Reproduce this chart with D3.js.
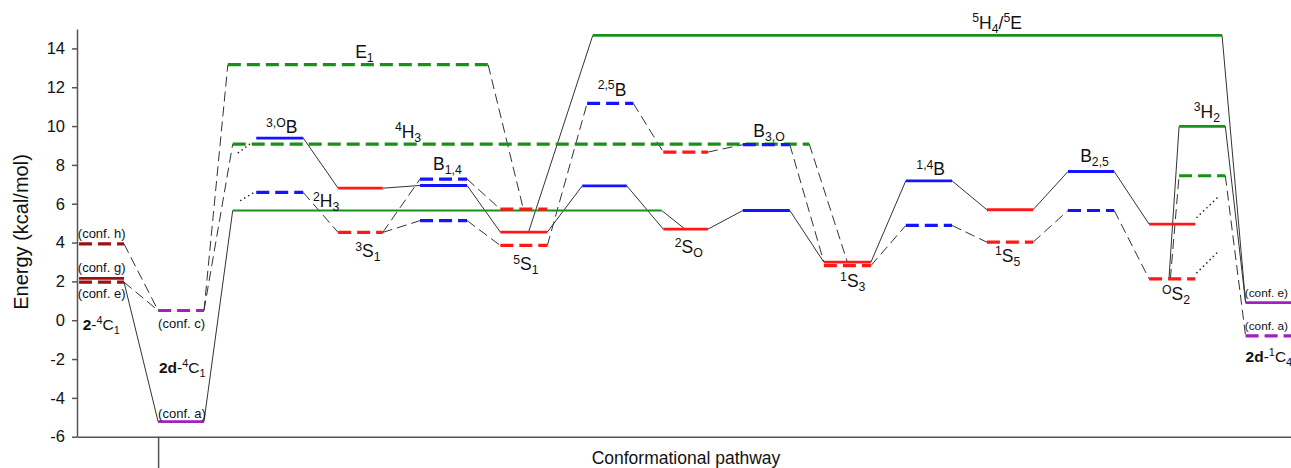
<!DOCTYPE html>
<html>
<head>
<meta charset="utf-8">
<script src="https://cdn.jsdelivr.net/npm/d3@7"></script>
<style>
  body { margin: 0; background: #fff; }
  svg { display: block; font-family: "Liberation Sans", Arial, sans-serif; }
</style>
</head>
<body>
<svg id="chart" width="1291" height="468"></svg>
<script>
// energy levels: [id, xStart, xEnd, energy, dashed]  (x in pathway steps)
const confLevels = [
  ["confH", 0.025, 0.58, 3.93, true],
  ["confG", 0.025, 0.58, 2.16, false],
  ["confE", 0.025, 0.58, 1.96, true],
  ["confC", 1.0, 1.566, 0.5, true],
  ["confA", 1.0, 1.566, -5.22, false],
  ["confE2", 14.41, 15.2, 0.91, false],
  ["confA2", 14.41, 15.2, -0.81, true]
];
const greenLevels = [
  ["E1", 1.86, 5.07, 13.16, true],
  ["H34", 1.92, 9.03, 9.07, true],
  ["g565", 1.92, 7.21, 5.65, false],
  ["H45E", 6.36, 14.12, 14.67, false],
  ["H32", 13.59, 14.16, 9.98, false],
  ["g744", 13.59, 14.16, 7.44, true]
];
const blueLevels = [
  ["B3O", 2.21, 2.79, 9.38, false],
  ["H23", 2.21, 2.79, 6.58, true],
  ["B14d", 4.23, 4.81, 7.27, true],
  ["B14", 4.23, 4.81, 6.94, false],
  ["b513", 4.23, 4.81, 5.13, true],
  ["B25up", 6.29, 6.86, 11.17, true],
  ["b692", 6.23, 6.78, 6.92, false],
  ["BO3", 8.21, 8.79, 9.04, true],
  ["b565", 8.21, 8.79, 5.65, false],
  ["B14up", 10.22, 10.79, 7.18, false],
  ["b488", 10.22, 10.79, 4.88, true],
  ["B25", 12.22, 12.79, 7.66, false],
  ["b565b", 12.22, 12.79, 5.65, true]
];
const redLevels = [
  ["r68", 3.22, 3.77, 6.8, false],
  ["S31", 3.22, 3.77, 4.52, true],
  ["r572", 5.22, 5.80, 5.72, true],
  ["S51", 5.22, 5.80, 4.54, false],
  ["r385", 5.22, 5.80, 3.85, true],
  ["r866", 7.23, 7.78, 8.66, true],
  ["S2O", 7.23, 7.78, 4.69, false],
  ["S13", 9.21, 9.79, 2.99, false],
  ["S13d", 9.21, 9.79, 2.81, true],
  ["r569", 11.22, 11.79, 5.69, false],
  ["S15", 11.22, 11.79, 4.02, true],
  ["r495", 13.22, 13.79, 4.95, false],
  ["SO2", 13.22, 13.79, 2.13, true]
];

// connections: [from, fraction along from, to, fraction along to, dashed]
const links = [
  ["confH", 1, "confC", 0, true], ["confE", 1, "confC", 0, true], ["confE", 1, "confA", 0, false],
  ["confA", 1, "g565", 0, false], ["confC", 1, "E1", 0, true], ["confC", 1, "H34", 0, true],
  ["B3O", 1, "r68", 0, false], ["H23", 1, "S31", 0, true],
  ["r68", 1, "B14", 0, false], ["S31", 1, "B14d", 0, true], ["S31", 1, "b513", 0, true],
  ["B14d", 1, "r572", 0, true], ["B14", 1, "S51", 0, false], ["b513", 1, "r385", 0, true],
  ["E1", 1, "r572", 0.49, true], ["S51", 0.6, "H45E", 0, false],
  ["r385", 1, "B25up", 0, true], ["S51", 1, "b692", 0, false],
  ["B25up", 1, "r866", 0, true], ["b692", 1, "S2O", 0, false], ["g565", 1, "S2O", 0.49, false],
  ["r866", 1, "BO3", 0, true], ["S2O", 1, "b565", 0, false],
  ["BO3", 1, "S13", 0, true], ["H34", 1, "S13", 0.5, true], ["b565", 1, "S13", 0, false],
  ["S13", 1, "B14up", 0, false], ["S13d", 1, "b488", 0, true],
  ["B14up", 1, "r569", 0, false], ["b488", 1, "S15", 0, true],
  ["r569", 1, "B25", 0, false], ["S15", 1, "b565b", 0, true],
  ["B25", 1, "r495", 0, false], ["b565b", 1, "SO2", 0, true],
  ["SO2", 0.43, "H32", 0, false], ["SO2", 0.46, "g744", 0, true],
  ["H45E", 1, "confE2", 0, false], ["H32", 1, "confE2", 0, false], ["g744", 1, "confA2", 0, true]
];

// dotted partial paths: [x1, e1, x2, e2]
const dottedLinks = [
  [1.99, 8.63, 2.17, 9.2],
  [2.02, 6.17, 2.17, 6.55],
  [13.81, 5.3, 14.06, 6.3],
  [13.81, 2.45, 14.06, 3.48]
];

// labels: [text, x, energy, kind]  ^{} superscript, _{} subscript, *{} bold
const labels = [
  ["E_{1}", 3.43, 13.52, "big"],
  ["^{4}H_{3}", 3.92, 9.40, "big"],
  ["^{3,O}B", 2.33, 9.65, "big"],
  ["^{2}H_{3}", 2.91, 5.84, "big"],
  ["^{3}S_{1}", 3.43, 3.26, "big"],
  ["B_{1,4}", 4.39, 7.75, "big"],
  ["^{5}S_{1}", 5.38, 2.59, "big"],
  ["^{2,5}B", 6.42, 11.56, "big"],
  ["^{2}S_{O}", 7.37, 3.47, "big"],
  ["B_{3,O}", 8.34, 9.45, "big"],
  ["^{1}S_{3}", 9.41, 1.72, "big"],
  ["^{1,4}B", 10.35, 7.49, "big"],
  ["^{1}S_{5}", 11.32, 3.01, "big"],
  ["B_{2,5}", 12.37, 8.16, "big"],
  ["^{O}S_{2}", 13.38, 1.05, "big"],
  ["^{3}H_{2}", 13.77, 10.43, "big"],
  ["^{5}H_{4}/^{5}E", 11.04, 15.02, "big"],
  ["(conf. h)", 0.01, 4.24, "small"],
  ["(conf. g)", 0.01, 2.49, "small"],
  ["(conf. e)", 0.01, 1.15, "small"],
  ["*{2}-^{4}C_{1}", 0.07, -0.5, "mid"],
  ["(conf. c)", 1.0, -0.4, "small"],
  ["*{2d}-^{4}C_{1}", 1.01, -2.72, "mid"],
  ["(conf. a)", 1.0, -5.03, "small"],
  ["(conf. e)", 14.40, 1.2, "edge"],
  ["(conf. a)", 14.40, -0.5, "edge"],
  ["*{2d}-^{1}C_{4}", 14.41, -2.15, "mid"]
];

const yTicks = [-6, -4, -2, 0, 2, 4, 6, 8, 10, 12, 14];
const xTicks = [1.0];

const colors = { conf: "#9c1010", purple: "#a020c0", green: "#169216", blue: "#1414ff", red: "#ff1818" };

const svg = d3.select("#chart");
const x = d3.scaleLinear().domain([0, 14.97]).range([77, 1291]);
const y = d3.scaleLinear().domain([-6, 15]).range([436.7, 29]);

// axes
const yAxis = svg.append("g")
  .attr("transform", "translate(77,0)")
  .call(d3.axisLeft(y).tickValues(yTicks).tickSize(5).tickSizeOuter(0).tickPadding(7)
    .tickFormat(d => String(d)));
yAxis.selectAll("text").attr("font-size", 16.5).attr("fill", "#111").attr("font-family", "Liberation Sans, Arial, sans-serif");
yAxis.selectAll("path, line").attr("stroke", "#555").attr("stroke-width", 1.5);

const xAxis = svg.append("g")
  .attr("transform", "translate(0," + y(-6) + ")")
  .call(d3.axisBottom(x).tickValues(xTicks).tickSize(32).tickSizeOuter(0).tickFormat(""));
xAxis.selectAll("path, line").attr("stroke", "#555").attr("stroke-width", 1.5);

svg.append("text")
  .attr("transform", "translate(28," + 232 + ") rotate(-90)")
  .attr("text-anchor", "middle")
  .attr("font-size", 20)
  .attr("fill", "#111")
  .text("Energy (kcal/mol)");

svg.append("text")
  .attr("x", 686).attr("y", 464)
  .attr("text-anchor", "middle")
  .attr("font-size", 17.5)
  .attr("fill", "#111")
  .text("Conformational pathway");

// level lookup
const levelColor = id => {
  if (["confE2", "confA2", "confC", "confA"].includes(id)) return colors.purple;
  return colors.conf;
};
const allLevels = [];
confLevels.forEach(d => allLevels.push({ id: d[0], x0: d[1], x1: d[2], e: d[3], dashed: d[4], color: levelColor(d[0]) }));
greenLevels.forEach(d => allLevels.push({ id: d[0], x0: d[1], x1: d[2], e: d[3], dashed: d[4], color: colors.green }));
blueLevels.forEach(d => allLevels.push({ id: d[0], x0: d[1], x1: d[2], e: d[3], dashed: d[4], color: colors.blue }));
redLevels.forEach(d => allLevels.push({ id: d[0], x0: d[1], x1: d[2], e: d[3], dashed: d[4], color: colors.red }));
const byId = {};
allLevels.forEach(d => byId[d.id] = d);

// connectors first (under the levels)
const at = (id, f) => {
  const l = byId[id];
  return [x(l.x0 + (l.x1 - l.x0) * f), y(l.e)];
};
svg.append("g").selectAll("line.link")
  .data(links)
  .enter().append("line")
  .attr("class", "link")
  .attr("x1", d => at(d[0], d[1])[0])
  .attr("y1", d => at(d[0], d[1])[1])
  .attr("x2", d => at(d[2], d[3])[0])
  .attr("y2", d => at(d[2], d[3])[1])
  .attr("stroke", "#333")
  .attr("stroke-width", 1)
  .attr("stroke-dasharray", d => d[4] ? "10,5" : null);

svg.append("g").selectAll("line.dot")
  .data(dottedLinks)
  .enter().append("line")
  .attr("class", "dot")
  .attr("x1", d => x(d[0])).attr("y1", d => y(d[1]))
  .attr("x2", d => x(d[2])).attr("y2", d => y(d[3]))
  .attr("stroke", "#222")
  .attr("stroke-width", 1.6)
  .attr("stroke-linecap", "round")
  .attr("stroke-dasharray", "0.1,4.5");

// levels
svg.append("g").selectAll("line.level")
  .data(allLevels)
  .enter().append("line")
  .attr("class", "level")
  .attr("x1", d => x(d.x0)).attr("x2", d => x(d.x1))
  .attr("y1", d => y(d.e)).attr("y2", d => y(d.e))
  .attr("stroke", d => d.color)
  .attr("stroke-width", d => d.id === "g565" ? 2 : (d.dashed ? 3.2 : 2.8))
  .attr("stroke-dasharray", d => d.dashed ? "13,6" : null);

// labels with sub/superscripts
const sizes = { big: 17.5, mid: 15.5, small: 13, edge: 11.8 };
const g = svg.append("g");
labels.forEach(lab => {
  const size = sizes[lab[3]];
  const t = g.append("text")
    .attr("x", x(lab[1])).attr("y", y(lab[2]))
    .attr("font-size", size).attr("fill", "#111");
  const tokens = lab[0].match(/(\^\{[^}]*\}|_\{[^}]*\}|\*\{[^}]*\}|[^\^_*]+)/g);
  let shift = 0;
  tokens.forEach(tok => {
    let target = 0, fs = size, weight = "normal", txt = tok;
    if (tok[0] === "^") { target = -0.36 * size; fs = 0.7 * size; txt = tok.slice(2, -1); }
    else if (tok[0] === "_") { target = 0.26 * size; fs = 0.7 * size; txt = tok.slice(2, -1); }
    else if (tok[0] === "*") { weight = "bold"; txt = tok.slice(2, -1); }
    t.append("tspan")
      .attr("dy", target - shift)
      .attr("font-size", fs)
      .attr("font-weight", weight)
      .text(txt);
    shift = target;
  });
});
</script>
</body>
</html>
